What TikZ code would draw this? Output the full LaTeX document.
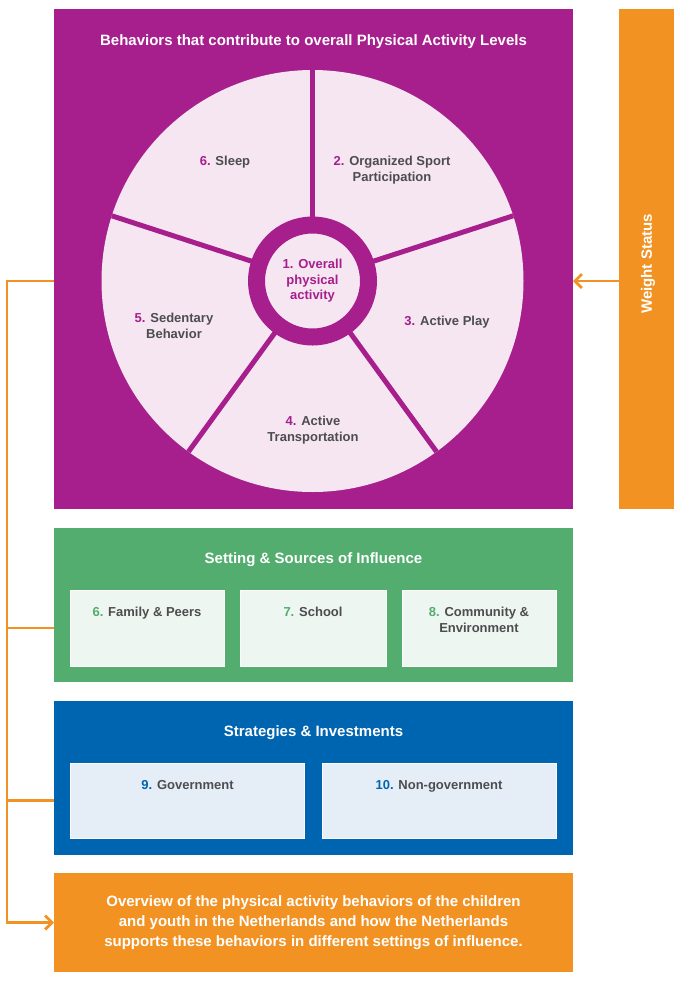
\documentclass[tikz,border=0pt]{standalone}
\usepackage{fontspec}
\setmainfont{Liberation Sans}
\usetikzlibrary{arrows.meta, positioning}
\definecolor{papurple}{RGB}{166,31,140}
\definecolor{papink}{RGB}{245,230,242}
\definecolor{paorange}{RGB}{242,146,34}
\definecolor{pagreen}{RGB}{82,173,111}
\definecolor{pagreenlight}{RGB}{238,246,241}
\definecolor{pablue}{RGB}{0,101,177}
\definecolor{pabluelight}{RGB}{229,238,247}
\definecolor{pagrey}{RGB}{77,77,79}

\begin{document}
\begin{tikzpicture}[x=1pt, y=-1pt,
    panel/.style={inner sep=0, outer sep=0, minimum width=519pt, anchor=north west},
    cell/.style={inner sep=0, outer sep=0, draw=white, line width=0.8pt},
    heading/.style={text=white, align=center, font=\fontsize{15}{20}\selectfont\bfseries},
    lbl/.style={text=pagrey, align=center, inner sep=0, font=\fontsize{13}{15.5}\selectfont\bfseries},
    link/.style={draw=paorange, line width=2.8pt},
    linkarrow/.style={-{Straight Barb[length=7pt, width=14pt]}}
]
    \useasboundingbox (0,0) rectangle (680,986);

    % Panels
    \node[panel, fill=papurple, minimum height=500pt] (behav) at (54,9) {};
    \node[panel, fill=paorange, minimum width=55pt, minimum height=500pt] (weight) at (619,9) {};
    \node[panel, fill=pagreen, minimum height=154pt] (setting) at (54,528) {};
    \node[panel, fill=pablue, minimum height=154pt] (strategies) at (54,701) {};
    \node[panel, fill=paorange, minimum height=99pt, heading] (overview) at (54,873)
        {Overview of the physical activity behaviors of the children\\
         and youth in the Netherlands and how the Netherlands\\
         supports these behaviors in different settings of influence.};

    \node[heading, anchor=base] (behavtitle) at (313.5,45.5) {Behaviors that contribute to overall Physical Activity Levels};
    \node[heading, rotate=90] (weighttitle) at (648,264) {Weight Status};

    % Wheel of behaviors
    \node[circle, fill=papink, inner sep=0, minimum size=422pt] (wheel) at (312.5,281) {};
    \begin{scope}
        \clip (wheel.center) circle[radius=211pt];
        \foreach \a in {-90,-18,54,126,198} {
            \draw[papurple, line width=5pt] (wheel.center) -- ++(\a:240);
        }
    \end{scope}
    \node[circle, draw=papurple, line width=17pt, fill=papink, minimum size=112pt,
        lbl, text=papurple] (hub) at (wheel.center) {1. Overall\\physical\\activity};

    \node[lbl] (sleep) at (225,162) {\textcolor{papurple}{6.} Sleep};
    \node[lbl] (sport) at (392,170) {\textcolor{papurple}{2.} Organized Sport\\Participation};
    \node[lbl] (play) at (447,322) {\textcolor{papurple}{3.} Active Play};
    \node[lbl] (transport) at (313,430) {\textcolor{papurple}{4.} Active\\Transportation};
    \node[lbl] (sedentary) at (174,326) {\textcolor{papurple}{5.} Sedentary\\Behavior};

    % Settings and strategies
    \node[heading, anchor=base] (settingtitle) at (313.5,563.5) {Setting \& Sources of Influence};
    \foreach \name/\x/\w/\txt in {family/147/154/{\textcolor{pagreen}{6.} Family \& Peers},
                                  school/313/146/{\textcolor{pagreen}{7.} School},
                                  community/479/154/{\textcolor{pagreen}{8.} Community \&\\Environment}} {
        \node[cell, fill=pagreenlight, minimum width=\w pt, minimum height=76pt] (\name) at (\x,628) {};
        \node[lbl, anchor=north, below=17pt of \name.north] (\name-text) {\txt};
    }

    \node[heading, anchor=base] (strategiestitle) at (313.5,736) {Strategies \& Investments};
    \foreach \name/\x/\txt in {government/187.5/{\textcolor{pablue}{9.} Government},
                               nongov/439/{\textcolor{pablue}{10.} Non-government}} {
        \node[cell, fill=pabluelight, minimum width=234pt, minimum height=75pt] (\name) at (\x,800.5) {};
        \node[lbl, anchor=north, below=17pt of \name.north] (\name-text) {\txt};
    }

    % Connectors
    \coordinate (spine) at (7,0);
    \draw[link, linkarrow] (hub -| weight.west) -- (hub -| behav.east);
    \draw[link, linkarrow] (hub -| behav.west) -- (hub -| spine) -- (overview -| spine) -- (overview.west);
    \draw[link] (family -| setting.west) -- (family -| spine);
    \draw[link] (government -| strategies.west) -- (government -| spine);
\end{tikzpicture}
\end{document}
